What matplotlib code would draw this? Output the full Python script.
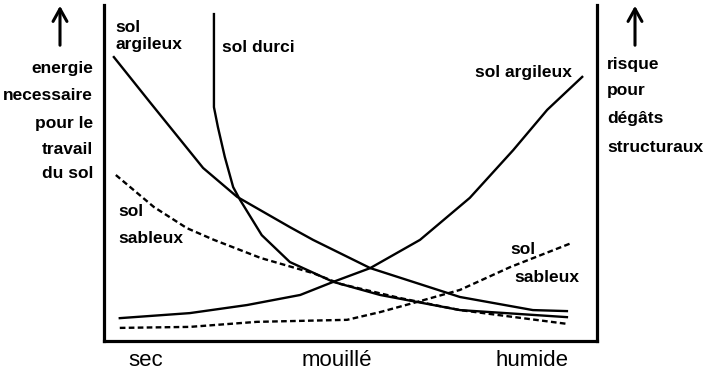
import matplotlib
matplotlib.use("Agg")
import matplotlib.pyplot as plt

plt.rcParams['font.family'] = ['Liberation Sans', 'DejaVu Sans']

# humidité du sol (0 = sec, 100 = humide), niveau (0..100)
x_arg_energie = [2.0, 9.3, 20.1, 27.0, 37.7, 42.4, 54.0, 72.2, 87.0, 93.9]
y_arg_energie = [84.5, 71.1, 51.5, 42.9, 33.9, 30.1, 21.7, 13.1, 9.2, 8.9]

x_durci = [22.3, 22.3, 23.1, 24.5, 26.2, 27.6, 32.0, 37.7, 46.5, 56.0, 72.2, 93.9]
y_durci = [97.3, 69.6, 63.7, 54.8, 45.8, 42.0, 31.5, 23.5, 17.6, 13.7, 9.2, 7.1]

x_sab_energie = [2.4, 10.1, 16.8, 22.3, 31.8, 42.4, 47.9, 60.0, 72.2, 93.9]
y_sab_energie = [49.4, 39.9, 33.6, 30.1, 24.7, 20.2, 17.0, 12.8, 9.2, 5.1]

x_arg_risque = [3.2, 17.4, 29.0, 39.8, 46.5, 54.0, 64.1, 74.2, 83.0, 89.9, 97.0]
y_arg_risque = [6.8, 8.3, 10.7, 13.7, 17.6, 21.7, 30.1, 42.6, 56.8, 68.8, 78.6]

x_sab_risque = [3.2, 17.4, 31.0, 49.3, 56.0, 62.7, 72.2, 82.4, 94.9]
y_sab_risque = [3.9, 4.2, 5.7, 6.3, 8.6, 11.3, 15.2, 22.0, 29.2]

W, H = 710, 375
fig = plt.figure(figsize=(W / 100, H / 100), dpi=100)
ax = fig.add_axes([104 / W, 1 - 341 / H, 493 / W, 336 / H])


def P(x, y):
    # position en pixels de la figure -> fraction
    return x / W, 1 - y / H


lw = 1.7
dash = (0, (2.4, 1.4))
ax.plot(x_arg_energie, y_arg_energie, color='black', lw=lw)
ax.plot(x_durci, y_durci, color='black', lw=lw)
ax.plot(x_sab_energie, y_sab_energie, color='black', lw=lw, linestyle=dash)
ax.plot(x_arg_risque, y_arg_risque, color='black', lw=lw)
ax.plot(x_sab_risque, y_sab_risque, color='black', lw=lw, linestyle=dash)

ax.set_xlim(0, 100)
ax.set_ylim(0, 100)
ax.set_xticks([])
ax.set_yticks([])
ax.spines['top'].set_visible(False)
for s in ['left', 'right', 'bottom']:
    ax.spines[s].set_linewidth(2.3)

fs = 12.5
bold = dict(fontsize=fs, fontweight='bold', va='center')
# étiquettes des courbes
fig.text(*P(115, 28), 'sol', ha='left', **bold)
fig.text(*P(115, 45), 'argileux', ha='left', **bold)
fig.text(*P(222, 48), 'sol durci', ha='left', **bold)
fig.text(*P(475, 73), 'sol argileux', ha='left', **bold)
fig.text(*P(118, 212), 'sol', ha='left', **bold)
fig.text(*P(118, 238), 'sableux', ha='left', **bold)
fig.text(*P(510, 249), 'sol', ha='left', **bold)
fig.text(*P(514, 278), 'sableux', ha='left', **bold)

# axe gauche
for txt, y in zip(['energie', 'necessaire', 'pour le', 'travail', 'du sol'],
                  [68, 96, 123, 149, 173]):
    fig.text(*P(93, y), txt, ha='right', **bold)
# axe droit
for txt, y in zip(['risque', 'pour', 'dégâts', 'structuraux'],
                  [65, 91, 118, 147]):
    fig.text(*P(607, y), txt, ha='left', **bold)

# flèches
for xa in [60, 635]:
    fig.add_artist(matplotlib.patches.FancyArrowPatch(
        P(xa, 48), P(xa, 3), transform=fig.transFigure,
        arrowstyle='->,head_length=0.45,head_width=0.25', lw=2.2,
        color='black', mutation_scale=20))

# axe x
for txt, xc in zip(['sec', 'mouillé', 'humide'], [146, 337, 532]):
    fig.text(*P(xc, 361), txt, ha='center', va='center', fontsize=16)

fig.savefig('out.png', dpi=100)
